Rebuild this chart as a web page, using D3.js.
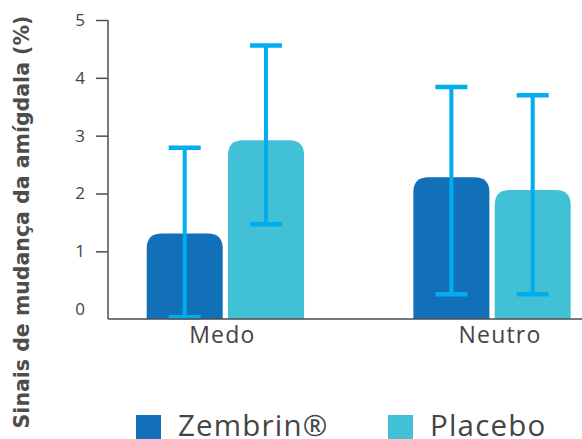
<!DOCTYPE html>
<html>
<head>
<meta charset="utf-8">
<script src="https://cdn.jsdelivr.net/npm/d3@7"></script>
<style>
  html, body { margin: 0; padding: 0; background: #fff; }
  svg { display: block; }
</style>
</head>
<body>
<svg id="chart" width="582" height="439"></svg>
<script>
// Chart data
const categories = ["Medo", "Neutro"];
const series = ["Zembrin®", "Placebo"];
const zembrinValues = [1.31, 2.28];
const placeboValues = [2.92, 2.06];
const zembrinErrLow = [-0.14, 0.26];
const zembrinErrHigh = [2.79, 3.84];
const placeboErrLow = [1.47, 0.26];
const placeboErrHigh = [4.56, 3.70];
const yTicks = [0, 1, 2, 3, 4, 5];
const yTitle = "Sinais de mudança da amígdala (%)";

const colors = { "Zembrin®": "#1170b8", "Placebo": "#42c1d6" };
const errColor = "#00aeef";
const axisColor = "#4d4d4d";
const textColor = "#444";

const rows = categories.map((c, i) => ({
  category: c,
  bars: [
    { s: series[0], v: zembrinValues[i], lo: zembrinErrLow[i], hi: zembrinErrHigh[i] },
    { s: series[1], v: placeboValues[i], lo: placeboErrLow[i], hi: placeboErrHigh[i] }
  ]
}));

const svg = d3.select("#chart");
const axisX = 108, baseY = 319, topY = 20;

const y = d3.scaleLinear().domain([-0.17, 5]).range([baseY, topY]);
const x0 = d3.scaleBand().domain(categories).range([146.7, 570.7]).paddingInner(0.41).paddingOuter(0);
const x1 = d3.scaleBand().domain(series).range([0, x0.bandwidth()]).paddingInner(0.065).paddingOuter(0);

const font = "'Open Sans', Lato, sans-serif";

// Bars with rounded top corners
function roundTopBar(x, yTop, w, yBottom, r) {
  r = Math.min(r, w / 2, (yBottom - yTop));
  return `M${x},${yBottom}V${yTop + r}Q${x},${yTop} ${x + r},${yTop}H${x + w - r}Q${x + w},${yTop} ${x + w},${yTop + r}V${yBottom}Z`;
}

const groups = svg.append("g").selectAll("g").data(rows).join("g")
  .attr("transform", d => `translate(${x0(d.category)},0)`);

groups.selectAll("path.bar").data(d => d.bars).join("path")
  .attr("class", "bar")
  .attr("fill", d => colors[d.s])
  .attr("d", d => roundTopBar(x1(d.s), y(d.v), x1.bandwidth(), y.range()[0], 15));

// Error bars
const capW = 32;
const eb = groups.selectAll("g.err").data(d => d.bars).join("g").attr("class", "err")
  .attr("transform", d => `translate(${x1(d.s) + x1.bandwidth() / 2},0)`);
eb.append("line").attr("x1", 0).attr("x2", 0)
  .attr("y1", d => y(d.lo)).attr("y2", d => y(d.hi))
  .attr("stroke", errColor).attr("stroke-width", 4);
eb.append("line").attr("x1", -capW / 2).attr("x2", capW / 2)
  .attr("y1", d => y(d.hi)).attr("y2", d => y(d.hi))
  .attr("stroke", errColor).attr("stroke-width", 4.5);
eb.append("line").attr("x1", -capW / 2).attr("x2", capW / 2)
  .attr("y1", d => y(d.lo)).attr("y2", d => y(d.lo))
  .attr("stroke", errColor).attr("stroke-width", 4.5);

// Y axis
const yAxis = d3.axisLeft(y).tickValues(yTicks).tickSize(12).tickPadding(11).tickSizeOuter(0).tickFormat(d3.format("d"));
const gy = svg.append("g").attr("transform", `translate(${axisX},0)`).call(yAxis);
gy.select(".domain").attr("stroke", axisColor).attr("stroke-width", 1.5)
  .attr("d", `M0,${y(5)}V${baseY}`);
gy.selectAll(".tick line").attr("stroke", axisColor).attr("stroke-width", 1.5)
  .filter(d => d === 0).remove();
gy.selectAll(".tick text").attr("fill", textColor).attr("font-size", 17)
  .attr("font-family", font).attr("font-weight", 400);

// X axis baseline
svg.append("line").attr("x1", axisX).attr("x2", 582).attr("y1", baseY).attr("y2", baseY)
  .attr("stroke", axisColor).attr("stroke-width", 1.5);

// Category labels
const labelShift = { "Medo": -3, "Neutro": 8 };
svg.append("g").selectAll("text").data(categories).join("text")
  .attr("x", d => x0(d) + x0.bandwidth() / 2 + labelShift[d])
  .attr("y", 343)
  .attr("text-anchor", "middle")
  .attr("font-family", font).attr("font-size", 23).attr("font-weight", 400)
  .attr("letter-spacing", 1.2)
  .attr("fill", textColor)
  .text(d => d);

// Y axis title
svg.append("text")
  .attr("transform", "translate(29,222) rotate(-90)")
  .attr("text-anchor", "middle")
  .attr("font-family", "'DejaVu Sans', sans-serif")
  .attr("font-weight", "bold").attr("font-size", 20.5)
  .attr("fill", "#4d4d4d")
  .text(yTitle);

// Legend
const legendX = [136, 388];
const lg = svg.append("g").selectAll("g").data(series).join("g")
  .attr("transform", (d, i) => `translate(${legendX[i]},415)`);
lg.append("rect").attr("width", 25).attr("height", 25).attr("fill", d => colors[d]);
lg.append("text").attr("x", 42).attr("y", 20.5)
  .attr("font-family", font).attr("font-size", 29.5).attr("font-weight", 400)
  .attr("letter-spacing", 1.2)
  .attr("fill", textColor)
  .text(d => d);
</script>
</body>
</html>
